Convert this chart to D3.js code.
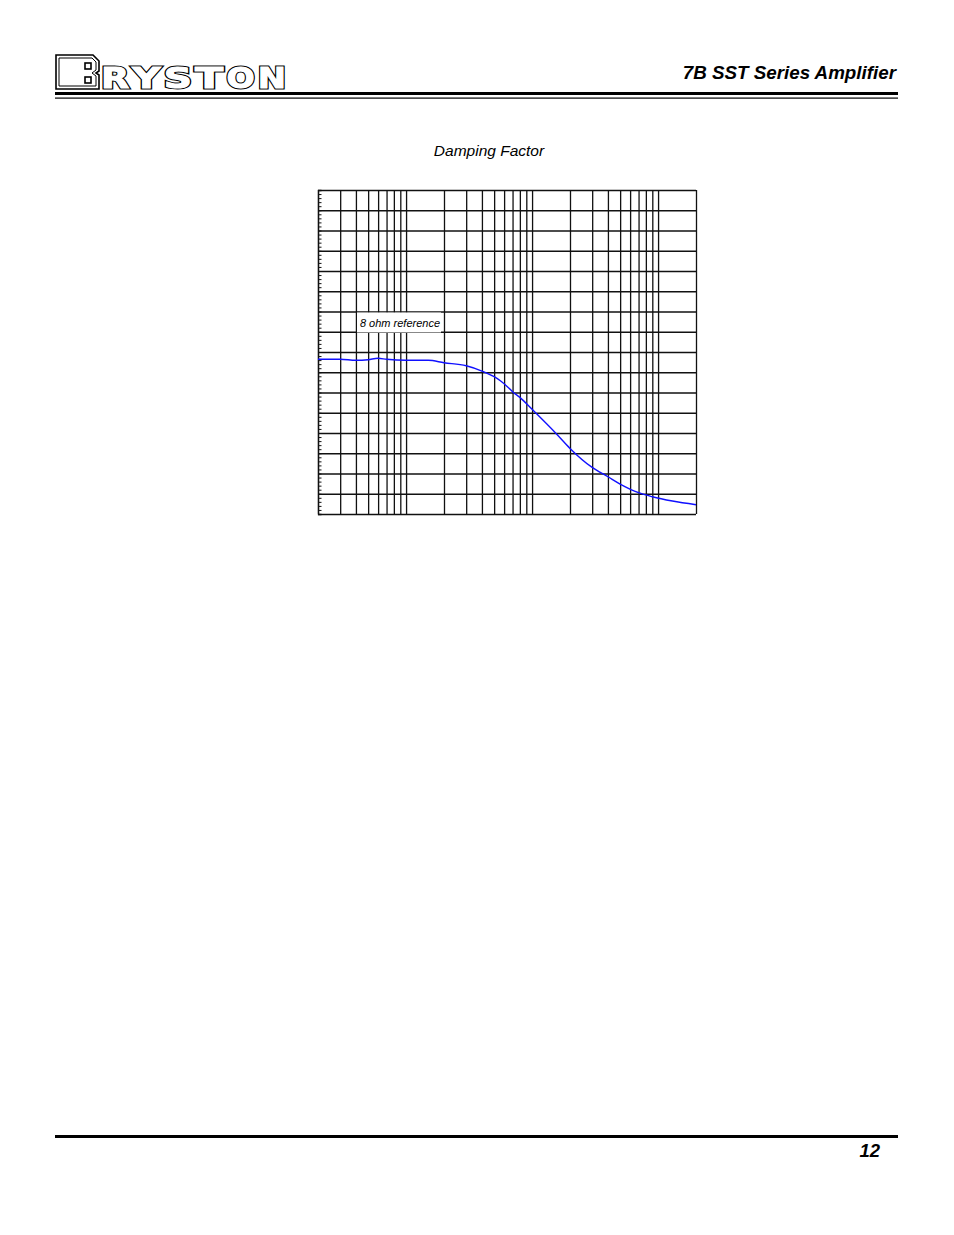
<!DOCTYPE html>
<html><head><meta charset="utf-8">
<script src="https://cdn.jsdelivr.net/npm/d3@7"></script>
<style>
html,body{margin:0;padding:0;background:#fff;}
svg{display:block;}
</style></head>
<body>
<script>
// ---- data ----
const freqs = [20,30,40,50,60,70,100,150,200,300,400,500,560,650,700,800,1000,1570,2000,3000,4000,5000,7000,9000,13000,20000];
const damping = [382,382,379.5,381,384.4,382,379.5,379.5,373.6,366,353,339,329,312,302,288,258.5,197,162,115,92,74,52.6,42.7,32,23];
const xGridTicks = [20,30,40,50,60,70,80,90,100,200,300,400,500,600,700,800,900,1000,2000,3000,4000,5000,6000,7000,8000,9000,10000,20000];
const yDomain = [0, 800];
const yGridTicks = d3.range(0, 801, 50);
const yMinorTicks = d3.range(0, 801, 10);
const chartTitle = "Damping Factor";
const refLabel = "8 ohm reference";
const headerTitle = "7B SST Series Amplifier";
const pageNumber = "12";
const logoRest = ["R", "Y", "S", "T", "O", "N"];

const W = 954, H = 1235;
const svg = d3.select("body").append("svg").attr("width", W).attr("height", H);
svg.append("rect").attr("width", W).attr("height", H).attr("fill", "#fff");

// ---- header ----
const hdr = svg.append("g");
hdr.append("rect").attr("x", 55).attr("y", 92).attr("width", 843).attr("height", 3).attr("fill", "#000");
hdr.append("rect").attr("x", 55).attr("y", 97.5).attr("width", 843).attr("height", 1.2).attr("fill", "#000");
hdr.append("text").attr("x", 896).attr("y", 79).attr("text-anchor", "end")
  .attr("font-family", "Liberation Sans, Arial, sans-serif").attr("font-weight", "bold").attr("font-style", "italic")
  .attr("font-size", 18.8).attr("fill", "#000").text(headerTitle);

// logo: big B
const logo = hdr.append("g").attr("fill", "#fff").attr("stroke", "#000").attr("stroke-width", 1.6);
logo.append("path").attr("d", "M56,55 L93,55 L99,61 L99,71 L96,73 L99,75 L99,89 L56,89 Z");
logo.append("path").attr("d", "M59,58 L92,58 L96,62 L96,70 L92,73 L96,76 L96,86 L59,86 Z").attr("stroke-width", 1);
logo.append("rect").attr("x", 85).attr("y", 63).attr("width", 6).attr("height", 6);
logo.append("rect").attr("x", 85).attr("y", 77).attr("width", 6).attr("height", 6);
const letterX = d3.scaleBand().domain(logoRest).range([101, 286]).paddingInner(0.1);
const lg = hdr.append("g").attr("font-family", "DejaVu Sans, sans-serif").attr("font-weight", "bold")
  .attr("font-size", 28);
logoRest.forEach(ch => {
  [[3, "#000"], [1, "#fff"]].forEach(([sw, col]) => {
    lg.append("text").attr("x", letterX(ch)).attr("y", 88)
      .attr("textLength", letterX.bandwidth()).attr("lengthAdjust", "spacingAndGlyphs")
      .attr("fill", "#fff").attr("stroke", col).attr("stroke-width", sw).text(ch);
  });
});

// ---- footer ----
svg.append("rect").attr("x", 55).attr("y", 1135).attr("width", 843).attr("height", 3).attr("fill", "#000");
svg.append("text").attr("x", 880).attr("y", 1157).attr("text-anchor", "end")
  .attr("font-family", "Liberation Sans, Arial, sans-serif").attr("font-weight", "bold").attr("font-style", "italic")
  .attr("font-size", 18.5).attr("fill", "#000").text(pageNumber);

// ---- chart ----
svg.append("text").attr("x", 489).attr("y", 156).attr("text-anchor", "middle")
  .attr("font-family", "Liberation Sans, Arial, sans-serif").attr("font-style", "italic")
  .attr("font-size", 15.5).attr("fill", "#000").text(chartTitle);

const L = 318, R = 696, T = 190, B = 514;
const x = d3.scaleLog().domain([20, 20000]).range([L, R]);
const y = d3.scaleLinear().domain(yDomain).range([B, T]);

const g = svg.append("g");
// vertical grid
g.append("g").attr("transform", `translate(0,${B})`)
  .call(d3.axisBottom(x).tickValues(xGridTicks).tickSize(-(B - T)).tickFormat(""))
  .call(a => a.select(".domain").remove())
  .call(a => a.selectAll("line").attr("stroke", "#111").attr("stroke-width", 1.3));
// horizontal grid
g.append("g").attr("transform", `translate(${L},0)`)
  .call(d3.axisLeft(y).tickValues(yGridTicks).tickSize(-(R - L)).tickFormat(""))
  .call(a => a.select(".domain").remove())
  .call(a => a.selectAll("line").attr("stroke", "#111").attr("stroke-width", 1.3));
// minor ticks on left axis (inward)
g.append("g").attr("transform", `translate(${L},0)`)
  .call(d3.axisRight(y).tickValues(yMinorTicks).tickSize(3.5).tickFormat(""))
  .call(a => a.select(".domain").attr("stroke", "#111").attr("stroke-width", 1.3))
  .call(a => a.selectAll("line").attr("stroke", "#111").attr("stroke-width", 1));

// label box
g.append("rect").attr("x", 357).attr("y", 312.5).attr("width", 84).attr("height", 20).attr("fill", "#fff");
g.append("text").attr("x", 400).attr("y", 327).attr("text-anchor", "middle")
  .attr("font-family", "Liberation Sans, Arial, sans-serif").attr("font-style", "italic")
  .attr("font-size", 11).attr("fill", "#000").text(refLabel);

// curve
const line = d3.line().x((d, i) => x(freqs[i])).y(d => y(d)).curve(d3.curveMonotoneX);
g.append("path").datum(damping).attr("d", line)
  .attr("fill", "none").attr("stroke", "#1010ff").attr("stroke-width", 1.4);
</script>
</body></html>
